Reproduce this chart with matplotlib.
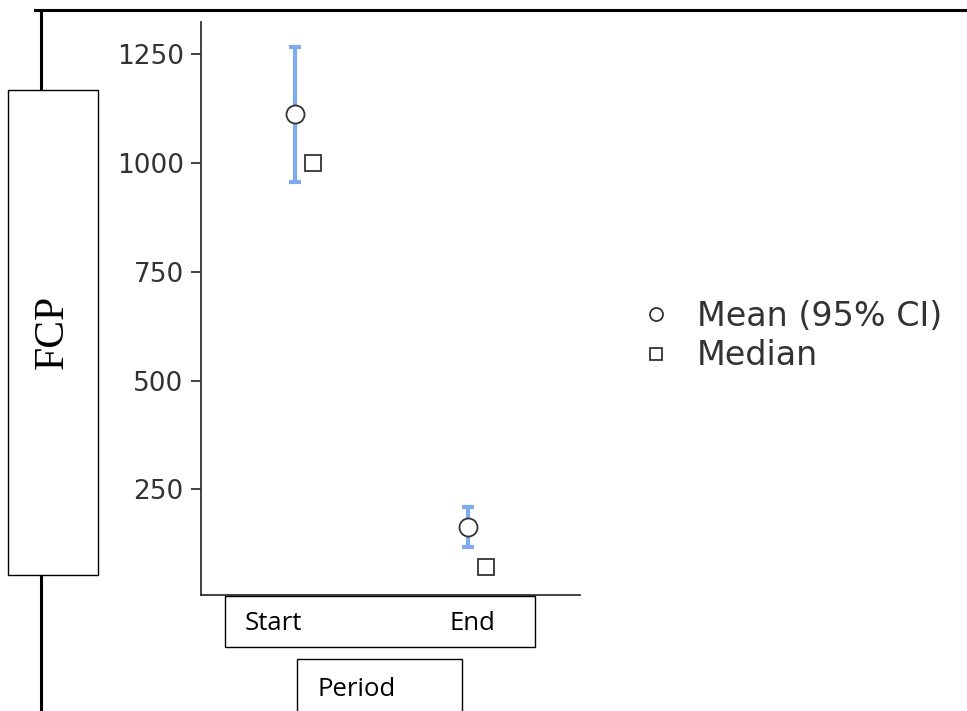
import matplotlib.pyplot as plt
from matplotlib.patches import Rectangle
from matplotlib.lines import Line2D

periods = ["Start", "End"]
mean_fcp = [1112, 163]
ci_low = [956, 117]
ci_high = [1266, 209]
median_fcp = [1000, 71]
y_ticks = [250, 500, 750, 1000, 1250]

W, H = 967, 711
fig = plt.figure(figsize=(W / 100, H / 100), dpi=100)

def fx(px):
    return px / W

def fy(py):
    return 1 - py / H

# axes placed in pixel terms
ax = fig.add_axes([fx(201), fy(595), fx(580) - fx(201), fy(22) - fy(595)])

xpos = list(range(len(periods)))
err = [[m - lo for m, lo in zip(mean_fcp, ci_low)],
       [hi - m for m, hi in zip(mean_fcp, ci_high)]]
ax.errorbar(xpos, mean_fcp, yerr=err, fmt="none", ecolor="#80aaee",
            elinewidth=3, capsize=4.5, capthick=3, zorder=2)
ax.plot(xpos, mean_fcp, "o", ms=13, mfc="white", mec="#333333", mew=1.3,
        zorder=3, label="Mean (95% CI)")
ax.plot([p + 0.104 for p in xpos], median_fcp, "s", ms=11.5, mfc="white",
        mec="#333333", mew=1.3, zorder=3, label="Median")

ax.set_xlim(-0.543, 1.647)
ax.set_ylim(7, 1324)
ax.set_yticks(y_ticks)
ax.set_xticks([])
for s in ["top", "right"]:
    ax.spines[s].set_visible(False)
for s in ["left", "bottom"]:
    ax.spines[s].set_color("#333333")
    ax.spines[s].set_linewidth(1.3)
ax.tick_params(axis="y", length=7, width=1.3, color="#333333",
               labelcolor="#333333", labelsize=19, pad=5.5)

leg = ax.legend(loc="center left", bbox_to_anchor=(fx(609), fy(336)),
                bbox_transform=fig.transFigure, frameon=False,
                markerscale=0.72, handlelength=1.0, handletextpad=0.74,
                labelspacing=0.2, prop={"size": 24})
for t in leg.get_texts():
    t.set_color("#333333")

# overlay frame lines
fig.add_artist(Line2D([fx(35), fx(967)], [fy(10), fy(10)], color="black", lw=2.2))
fig.add_artist(Line2D([fx(41), fx(41)], [fy(10), fy(90)], color="black", lw=2.2))
fig.add_artist(Line2D([fx(41), fx(41)], [fy(575), fy(711)], color="black", lw=2.2))

def box(x0, y0, x1, y1):
    fig.add_artist(Rectangle((fx(x0), fy(y1)), fx(x1) - fx(x0), fy(y0) - fy(y1),
                             transform=fig.transFigure, facecolor="white",
                             edgecolor="black", lw=1.0, zorder=5))

box(8, 90, 98, 575)
fig.text(fx(53), fy(332), "FCP", rotation=90, ha="center", va="center",
         family="Liberation Serif", fontsize=30, zorder=6)

box(225, 596, 535, 647)
fig.text(fx(245), fy(624), periods[0], ha="left", va="center",
         family="Open Sans", fontsize=18.5, zorder=6)
fig.text(fx(449), fy(624), periods[1], ha="left", va="center",
         family="Open Sans", fontsize=18.5, zorder=6)

box(297, 659, 462, 730)
fig.text(fx(318), fy(689), "Period", ha="left", va="center",
         family="Open Sans", fontsize=18.5, zorder=6)

fig.savefig("out.png", dpi=100)
